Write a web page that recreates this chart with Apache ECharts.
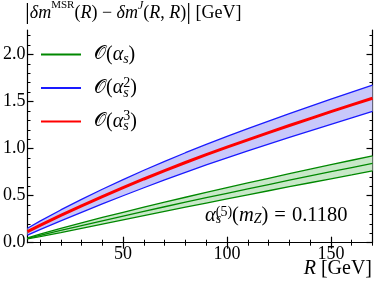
<!DOCTYPE html>
<html><head><meta charset="utf-8">
<script src="https://cdn.jsdelivr.net/npm/echarts@6/dist/echarts.min.js"></script>
<style>html,body{margin:0;padding:0;background:#fff}#c{width:374px;height:282px}</style>
</head><body><div id="c"></div>
<script>
// R values [GeV]
const R = [4,10,20,30,40,50,60,70,80,90,100,110,120,130,140,150,160,170];
// O(alpha_s^3) central
const red = [0.117,0.184,0.290,0.392,0.490,0.585,0.677,0.766,0.852,0.935,1.015,1.093,1.170,1.245,1.319,1.392,1.464,1.535];
// O(alpha_s^2) band
const blueUp = [0.154,0.229,0.348,0.461,0.568,0.671,0.770,0.865,0.956,1.044,1.129,1.211,1.292,1.371,1.449,1.526,1.601,1.675];
const blueLo = [0.080,0.139,0.232,0.323,0.412,0.499,0.584,0.667,0.748,0.826,0.901,0.975,1.048,1.119,1.189,1.258,1.327,1.395];
// O(alpha_s) band
const greenUp = [0.050,0.090,0.152,0.211,0.268,0.323,0.378,0.431,0.483,0.535,0.585,0.635,0.684,0.733,0.781,0.829,0.876,0.922];
const greenMid = [0.045,0.077,0.130,0.182,0.233,0.283,0.333,0.382,0.430,0.478,0.525,0.572,0.618,0.664,0.709,0.754,0.798,0.842];
const greenLo = [0.040,0.064,0.108,0.153,0.198,0.243,0.288,0.333,0.377,0.421,0.465,0.509,0.552,0.595,0.637,0.679,0.720,0.762];
// ticks
const xMajor = [50,100,150];
const xMinor = [10,20,30,40,60,70,80,90,110,120,130,140,160,170];
const yMajor = [0,0.5,1,1.5,2];
const yMinor = [0.1,0.2,0.3,0.4,0.6,0.7,0.8,0.9,1.1,1.2,1.3,1.4,1.6,1.7,1.8,1.9,2.1,2.2];

const FF = 'Liberation Serif';
const GREEN = '#008800', BLUE = '#1a1aff', RED = '#ff0000';
const pair = (a,b)=>a.map((v,i)=>[v,b[i]]);

function band(up, lo, fill){
  return {type:'custom', silent:true, xAxisIndex:0, yAxisIndex:0, data:R.map((r,i)=>[r,up[i]]), z:1,
    renderItem:function(params, api){
      if(params.dataIndex!==0) return null;
      const pts=[];
      for(let i=0;i<R.length;i++) pts.push(api.coord([R[i],up[i]]));
      for(let i=R.length-1;i>=0;i--) pts.push(api.coord([R[i],lo[i]]));
      return {type:'polygon', shape:{points:pts, smooth:0}, style:{fill:fill}};
    }, clip:true};
}
function line(name, d, color, w, z){
  return {type:'line', name:name, data:pair(R,d), symbol:'none', smooth:false, clip:true, z:z,
    lineStyle:{color:color,width:w}, itemStyle:{color:color}};
}
const axBase = {type:'value', min:4, max:170};
const lineS = {show:true, lineStyle:{color:'#000', width:1.2}};
const txt = {fontFamily:FF, fontSize:18, color:'#000'};
function mkRich(s){
  const b = {color:'#000', fontWeight:'normal', fontFamily:FF};
  const small = Math.round(s*0.68);
  return {
    o:Object.assign({}, b, {fontFamily:'DejaVu Serif', fontSize:s-1}),
    t:Object.assign({}, b, {fontSize:s}),
    eq:Object.assign({}, b, {fontSize:s, padding:[0,6,0,6]}),
    i:Object.assign({}, b, {fontSize:s, fontStyle:'italic'}),
    sb:Object.assign({}, b, {fontSize:small, fontStyle:'italic', verticalAlign:'bottom', lineHeight:small+2}),
    sb0:Object.assign({}, b, {fontSize:small, fontStyle:'italic', verticalAlign:'bottom', lineHeight:small+2, width:0.01}),
    sp:Object.assign({}, b, {fontSize:small, verticalAlign:'top', lineHeight:small+2}),
    spi:Object.assign({}, b, {fontSize:small, fontStyle:'italic', verticalAlign:'top', lineHeight:small+2}),
    sm:Object.assign({}, b, {fontSize:small-1, verticalAlign:'top', lineHeight:small+2}),
    bar:Object.assign({}, b, {fontSize:s+6})
  };
}
const richT = mkRich(18), richL = mkRich(20), richA = mkRich(20.5);
const labels = {
  O1:'{o|𝒪}{t|(}{i|α}{sb|s}{t|)}',
  O2:'{o|𝒪}{t|(}{i|α}{sb0|s}{sp|2}{t|)}',
  O3:'{o|𝒪}{t|(}{i|α}{sb0|s}{sp|3}{t|)}'
};

const option = {
  animation:false,
  grid:{left:24, right:1.5, top:30, bottom:39.3},
  title:{text:'{bar||}{i|δm}{sm|MSR}{t|(}{i|R}{t|) − }{i|δm}{spi|J}{t|(}{i|R}{t|, }{i|R}{t|)}{bar||}{t| [GeV]}',
    left:25, top:0, padding:0, textStyle:{rich:richT, lineHeight:26, fontFamily:FF, fontSize:18, fontWeight:'normal'}},
  legend:{orient:'vertical', left:41, top:42.5, padding:0, itemWidth:40, itemHeight:2, itemGap:9.5, icon:'rect',
    data:[{name:'O1'},{name:'O2'},{name:'O3'}],
    formatter:n=>labels[n],
    textStyle:{rich:richL, height:24, lineHeight:24, padding:[0,0,0,8]}},
  xAxis:[
    Object.assign({}, axBase, {position:'bottom', axisLine:lineS, splitLine:{show:false},
      axisTick:{inside:true, length:6, customValues:xMajor, lineStyle:{color:'#000',width:1.2}},
      axisLabel:Object.assign({customValues:xMajor, margin:3}, txt)}),
    Object.assign({}, axBase, {position:'bottom', axisLine:{show:false}, splitLine:{show:false},
      axisTick:{inside:true, length:3, customValues:xMinor, lineStyle:{color:'#000',width:1}}, axisLabel:{show:false}}),
    Object.assign({}, axBase, {position:'top', axisLine:lineS, splitLine:{show:false},
      axisTick:{inside:true, length:6, customValues:xMajor, lineStyle:{color:'#000',width:1.2}}, axisLabel:{show:false}}),
    Object.assign({}, axBase, {position:'top', axisLine:{show:false}, splitLine:{show:false},
      axisTick:{inside:true, length:3, customValues:xMinor, lineStyle:{color:'#000',width:1}}, axisLabel:{show:false}})
  ],
  yAxis:[
    {type:'value', min:0, max:2.26, position:'left', axisLine:lineS, splitLine:{show:false},
      axisTick:{inside:true, length:6, customValues:yMajor, lineStyle:{color:'#000',width:1.2}},
      axisLabel:Object.assign({customValues:yMajor, margin:2, formatter:v=>v.toFixed(1)}, txt)},
    {type:'value', min:0, max:2.26, position:'left', axisLine:{show:false}, splitLine:{show:false},
      axisTick:{inside:true, length:3, customValues:yMinor, lineStyle:{color:'#000',width:1}}, axisLabel:{show:false}},
    {type:'value', min:0, max:2.26, position:'right', axisLine:lineS, splitLine:{show:false},
      axisTick:{inside:true, length:6, customValues:yMajor, lineStyle:{color:'#000',width:1.2}}, axisLabel:{show:false}},
    {type:'value', min:0, max:2.26, position:'right', axisLine:{show:false}, splitLine:{show:false},
      axisTick:{inside:true, length:3, customValues:yMinor, lineStyle:{color:'#000',width:1}}, axisLabel:{show:false}}
  ],
  graphic:[
    {type:'text', right:2, top:259, style:{rich:richL, text:'{i|R}{t| [GeV]}', fontFamily:FF, fontSize:20}},
    {type:'text', left:205, top:205, style:{rich:richA, text:'{i|α}{sb0|s}{sp|(5)}{t|(}{i|m}{sb|Z}{t|)}{eq|=}{t|0.1180}', fontFamily:FF, fontSize:20.5}}
  ],
  series:[
    band(greenUp, greenLo, 'rgba(200,232,200,1)'),
    line('gu', greenUp, GREEN, 1.3, 3),
    line('O1', greenMid, GREEN, 1.3, 3),
    line('gl', greenLo, GREEN, 1.3, 3),
    band(blueUp, blueLo, 'rgba(200,200,250,1)'),
    line('bu', blueUp, BLUE, 1.3, 5),
    line('bl', blueLo, BLUE, 1.3, 5),
    line('O3', red, RED, 3, 6),
    {type:'line', name:'O2', data:[], symbol:'none', lineStyle:{color:BLUE, width:1.3}, itemStyle:{color:BLUE}}
  ]
};
const chart = echarts.init(document.getElementById('c'), null, {renderer:'canvas'});
chart.setOption(option);
</script></body></html>
